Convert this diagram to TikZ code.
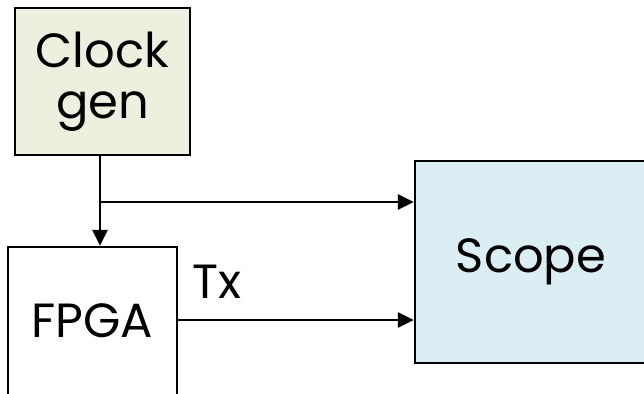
\documentclass[tikz,border=0pt]{standalone}
\usepackage{fontspec}
\setmainfont{Poppins}
\usetikzlibrary{arrows.meta}
\definecolor{clockfill}{HTML}{EBF1DE}
\definecolor{scopefill}{HTML}{DAEEF3}

\begin{document}
\begin{tikzpicture}[x=1pt,y=-1pt]
    \tikzset{font=\fontsize{48}{51}\selectfont}
    \tikzset{block/.style = {shape=rectangle,draw,line width=2.2pt,inner sep=0pt,align=center}}
    \tikzset{edge/.style = {line width=2.8pt,-{Triangle[length=16pt,width=15pt]}}}
    \useasboundingbox (0,0) rectangle (644,393);
    \clip (0,0) rectangle (644,393);
    % blocks
    \node[block,fill=clockfill,minimum width=175pt,minimum height=147pt] (clock) at (102.5,81.5) {Clock\\gen};
    \node[block,minimum width=169pt,minimum height=148pt] (fpga) at (92.5,321) {FPGA};
    \node[block,fill=scopefill,minimum width=232pt,minimum height=202pt] (scope) at (531,262) {Scope};
    \coordinate (split) at (100,202);
    \node[anchor=base west,inner sep=0pt] (tx) at (192,298) {Tx};

    % arrows
    \draw[edge] (clock.south -| split) -- (fpga.north -| split);
    \draw[edge] (split) -- (split -| scope.west);
    \draw[edge] (fpga.east |- 0,320) -- (scope.west |- 0,320);
\end{tikzpicture}
\end{document}
